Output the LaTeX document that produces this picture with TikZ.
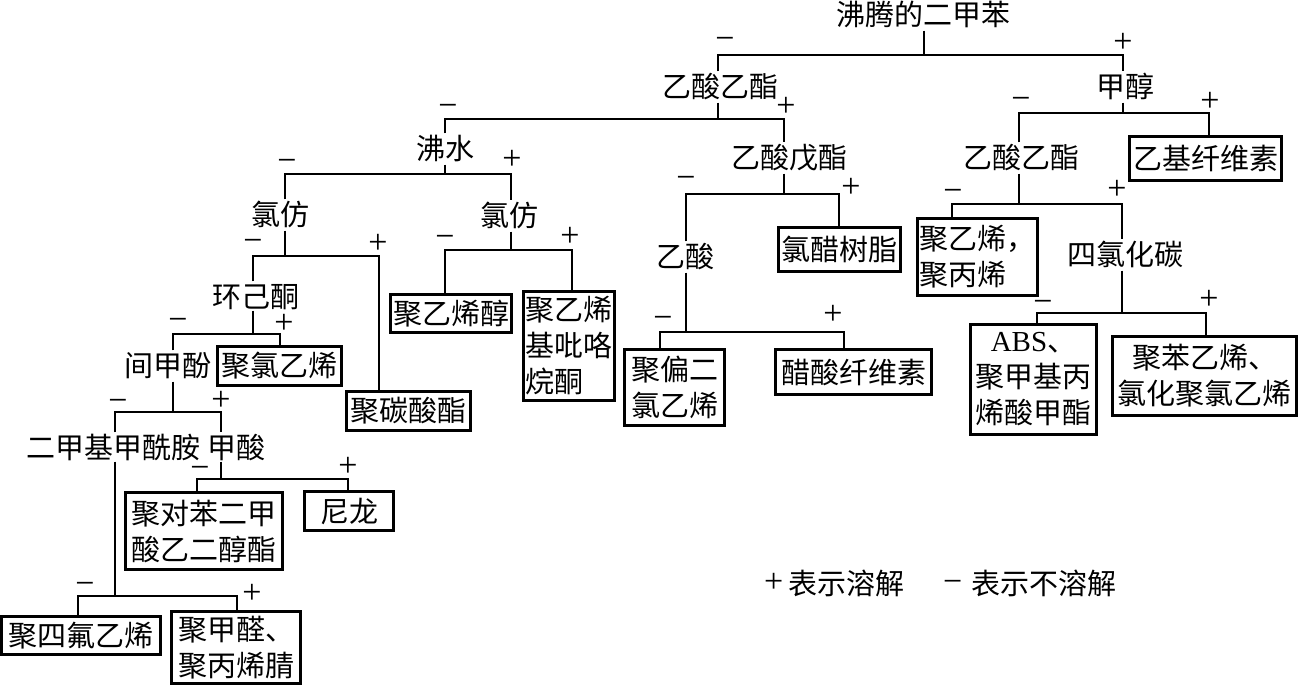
\documentclass[tikz,border=0pt]{standalone}
\usepackage{fontspec}
\setmainfont{Liberation Serif}
\newfontfamily\cjk{Noto Sans CJK SC}
\newcommand\mybranch[9]{%
  \coordinate (#2j) at (#4,#5);
  \coordinate (#2l) at (#6,#5);
  \coordinate (#2r) at (#8,#5);
  \draw[#1] (#2j |- #3.south) -- (#2j);
  \draw[#1] (#2l |- #7.north) -- (#2l) -- (#2r) -- (#2r |- #9.north);
}
\tikzset{
  txt/.style={font=\cjk\fontsize{29}{36}\selectfont, inner xsep=1pt, inner ysep=2pt, text height=24pt, text depth=3pt},
  box/.style={draw, line width=3pt, font=\cjk\fontsize{29}{36}\selectfont, inner sep=2pt},
  sg/.style={font=\fontsize{34}{34}\selectfont, inner sep=0pt},
  lnA/.style={line width=1.4pt},
  lnB/.style={line width=2.3pt},
}
\begin{document}
\begin{tikzpicture}[x=1pt,y=-1pt]
\useasboundingbox[fill=white] (0,0) rectangle (1300,686);
% text nodes
\node[txt] (top) at (923,15) {沸腾的二甲苯};
\node[txt] (yy1) at (720,87) {乙酸乙酯};
\node[txt] (jc) at (1125,87) {甲醇};
\node[txt] (fs) at (445,149) {沸水};
\node[txt] (ywz) at (789,158) {乙酸戊酯};
\node[txt] (yy2) at (1021,158) {乙酸乙酯};
\node[txt] (lf1) at (280,215) {氯仿};
\node[txt] (lf2) at (509,216) {氯仿};
\node[txt] (ys) at (685,257) {乙酸};
\node[txt] (slh) at (1125,255) {四氯化碳};
\node[txt, text depth=1pt] (hjt) at (256,296) {环己酮};
\node[txt] (jjf) at (168,366) {间甲酚};
\node[txt, text depth=1pt] (dmf) at (113.5,447) {二甲基甲酰胺};
\node[txt, text depth=1pt] (js) at (236.5,447) {甲酸};
% boxes
\node[box, minimum width=152pt, minimum height=44pt] (yjx) at (1205.5,158.5) {乙基纤维素};
\node[box, minimum width=122pt, minimum height=44pt] (lcs) at (839.5,249.5) {氯醋树脂};
\node[box, minimum width=107pt, minimum height=77pt, align=left] (pe) at (977,257) {聚乙烯，\\聚丙烯};
\node[box, minimum width=121pt, minimum height=38pt] (pva) at (451,313.5) {聚乙烯醇};
\node[box, minimum width=90pt, minimum height=109pt, align=left] (pvp) at (568.5,346) {聚乙烯\\基吡咯\\烷酮};
\node[box, minimum width=100pt, minimum height=76pt, align=left] (pvdc) at (674.5,387.5) {聚偏二\\氯乙烯};
\node[box, minimum width=156pt, minimum height=45pt] (ca) at (853.5,372) {醋酸纤维素};
\node[box, minimum width=126pt, minimum height=110pt, align=center] (abs) at (1033.5,379.5) {{\rmfamily ABS}、\\聚甲基丙\\烯酸甲酯};
\node[box, minimum width=184pt, minimum height=79pt, align=center] (ps) at (1204.5,376) {聚苯乙烯、\\氯化聚氯乙烯};
\node[box, minimum width=124pt, minimum height=39pt] (pvc) at (279.5,366) {聚氯乙烯};
\node[box, minimum width=124pt, minimum height=39pt] (pc) at (408.5,411) {聚碳酸酯};
\node[box, minimum width=157pt, minimum height=77pt, align=left] (pet) at (204,531) {聚对苯二甲\\酸乙二醇酯};
\node[box, minimum width=89pt, minimum height=39pt] (nl) at (349,511) {尼龙};
\node[box, minimum width=159pt, minimum height=38pt] (ptfe) at (81,635.5) {聚四氟乙烯};
\node[box, minimum width=129pt, minimum height=72pt, align=left] (pom) at (236,647.5) {聚甲醛、\\聚丙烯腈};
% connectors
\mybranch{lnA}{b1}{top}{924}{55}{718}{yy1}{1123}{jc}
\mybranch{lnA}{b2}{yy1}{718}{119}{445}{fs}{784}{ywz}
\mybranch{lnA}{b3}{jc}{1123}{113}{1019}{yy2}{1209}{yjx}
\mybranch{lnB}{b4}{fs}{445}{174}{285}{lf1}{511}{lf2}
\mybranch{lnB}{b5}{ywz}{784}{194}{686}{ys}{839}{lcs}
\mybranch{lnA}{b6}{yy2}{1019}{204}{952}{pe}{1122}{slh}
\mybranch{lnB}{b7}{lf1}{285}{256}{253}{hjt}{379}{pc}
\mybranch{lnB}{b8}{lf2}{511}{250}{445}{pva}{572}{pvp}
\mybranch{lnA}{b9}{ys}{686}{332}{660}{pvdc}{844}{ca}
\mybranch{lnA}{b10}{slh}{1122}{313}{1037}{abs}{1206}{ps}
\mybranch{lnB}{b11}{hjt}{253}{334}{173}{jjf}{280}{pvc}
\mybranch{lnB}{b12}{jjf}{173}{412}{115}{dmf}{221}{js}
\mybranch{lnB}{b13}{js}{221}{479}{197}{pet}{348}{nl}
\mybranch{lnA}{b14}{dmf}{115}{596}{78}{ptfe}{237}{pom}
% signs
\node[sg] (m1) at (725,43) {−};   \node[sg] (p1) at (1123,43) {+};
\node[sg] (m2) at (448,110) {−};  \node[sg] (p2) at (786,107) {+};
\node[sg] (m3) at (1021,103) {−}; \node[sg] (p3) at (1210,102) {+};
\node[sg] (m4) at (287,165) {−};  \node[sg] (p4) at (512,160) {+};
\node[sg] (m5) at (686,182) {−};  \node[sg] (p5) at (851,188) {+};
\node[sg] (m6) at (953,195) {−};  \node[sg] (p6) at (1117,190) {+};
\node[sg] (m7) at (253,245) {−};  \node[sg] (p7) at (378,244) {+};
\node[sg] (m8) at (445,241) {−};  \node[sg] (p8) at (570,237) {+};
\node[sg] (m9) at (663,322) {−};  \node[sg] (p9) at (833,315) {+};
\node[sg] (m10) at (1043,306) {−}; \node[sg] (p10) at (1209,300) {+};
\node[sg] (m11) at (178,324) {−}; \node[sg] (p11) at (284,324) {+};
\node[sg] (m12) at (118,405) {−}; \node[sg] (p12) at (221,401) {+};
\node[sg] (m13) at (200,472) {−}; \node[sg] (p13) at (348,467) {+};
\node[sg] (m14) at (85,588) {−};  \node[sg] (p14) at (252,594) {+};
% legend
\node[anchor=west, inner sep=0pt, font=\fontsize{29}{36}\selectfont] (lg1) at (764,583)
  {{\fontsize{34}{34}\selectfont\raisebox{2pt}{+}}\hspace{5pt}{\cjk 表示溶解}};
\node[anchor=west, inner sep=0pt, font=\fontsize{29}{36}\selectfont] (lg2) at (943,583)
  {{\fontsize{34}{34}\selectfont\raisebox{2pt}{−}}\hspace{9pt}{\cjk 表示不溶解}};
\end{tikzpicture}
\end{document}
